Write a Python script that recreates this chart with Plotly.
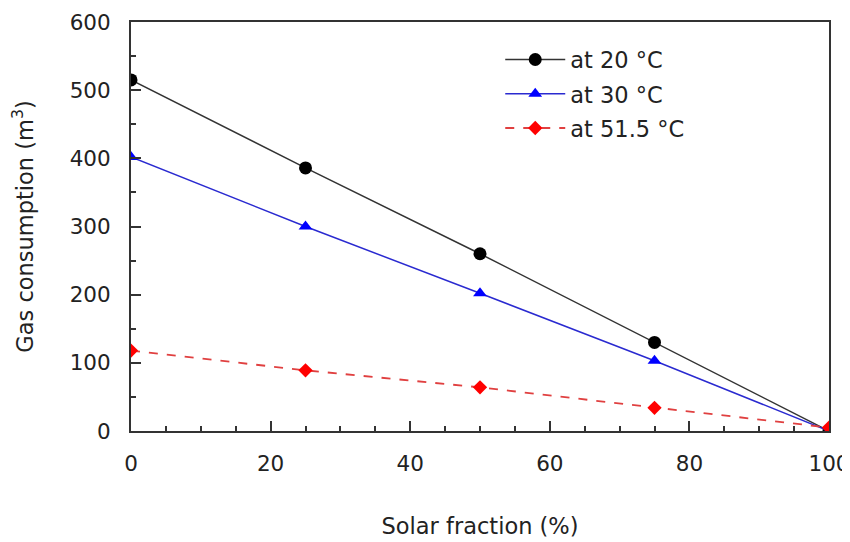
import plotly.graph_objects as go

solar_fraction = [0, 25, 50, 75, 100]
gas_20 = [515, 386, 260, 130, 0]
gas_30 = [402, 300, 202, 103, 0]
gas_515 = [118, 89, 64, 34, 5]

FONT = "DejaVu Sans"
TXT = "#222222"

fig = go.Figure()
fig.add_trace(go.Scatter(x=solar_fraction, y=gas_20, name="at 20 °C", mode="lines+markers",
                         legendgroup="a",
                         line=dict(color="#333333", width=1.5),
                         marker=dict(symbol="circle", size=13, color="black")))
fig.add_trace(go.Scatter(x=solar_fraction, y=gas_30, name="at 30 °C", mode="lines+markers",
                         legendgroup="b",
                         line=dict(color="#2a2ad0", width=1.5),
                         marker=dict(symbol="triangle-up", size=12, color="#0000ff")))
fig.add_trace(go.Scatter(x=solar_fraction, y=gas_515, name="at 51.5 °C", mode="lines+markers",
                         legendgroup="c",
                         line=dict(color="#e04040", width=1.8, dash="dash"),
                         marker=dict(symbol="diamond", size=11, color="#ff0000")))

axis_common = dict(showline=True, linecolor="#333333", linewidth=2, mirror=True,
                   showgrid=False, zeroline=False, ticks="inside", tickcolor="#333333",
                   tickwidth=1.5, ticklen=10, automargin=False, ticklabeloverflow="allow",
                   tickfont=dict(family=FONT, size=21.5, color=TXT))

fig.update_xaxes(range=[0, 100], dtick=20, tick0=0,
                 minor=dict(dtick=5, ticks="inside", ticklen=5, tickcolor="#333333", tickwidth=1.5),
                 title=dict(text="Solar fraction (%)", font=dict(family=FONT, size=22.5, color=TXT),
                            standoff=43),
                 ticklabelstandoff=12,
                 **axis_common)
fig.update_yaxes(range=[0, 600], dtick=100, tick0=0,
                 minor=dict(dtick=50, ticks="inside", ticklen=5, tickcolor="#333333", tickwidth=1.5),
                 title=dict(text="Gas consumption (m<sup>3</sup>)",
                            font=dict(family=FONT, size=22.5, color=TXT), standoff=30),
                 ticklabelstandoff=14,
                 **axis_common)

# page body has an 8px margin, so the figure is shrunk to fit the 850x542 window
fig.update_layout(width=842, height=534, plot_bgcolor="white", paper_bgcolor="white",
                  margin=dict(l=123, r=21, t=14, b=111),
                  font=dict(family=FONT, size=22, color=TXT),
                  legend=dict(x=0.529, y=0.96, xanchor="left", yanchor="top",
                              bgcolor="rgba(0,0,0,0)", font=dict(family=FONT, size=22.5, color=TXT),
                              itemwidth=60, tracegroupgap=2))

fig.write_html("out.html")
